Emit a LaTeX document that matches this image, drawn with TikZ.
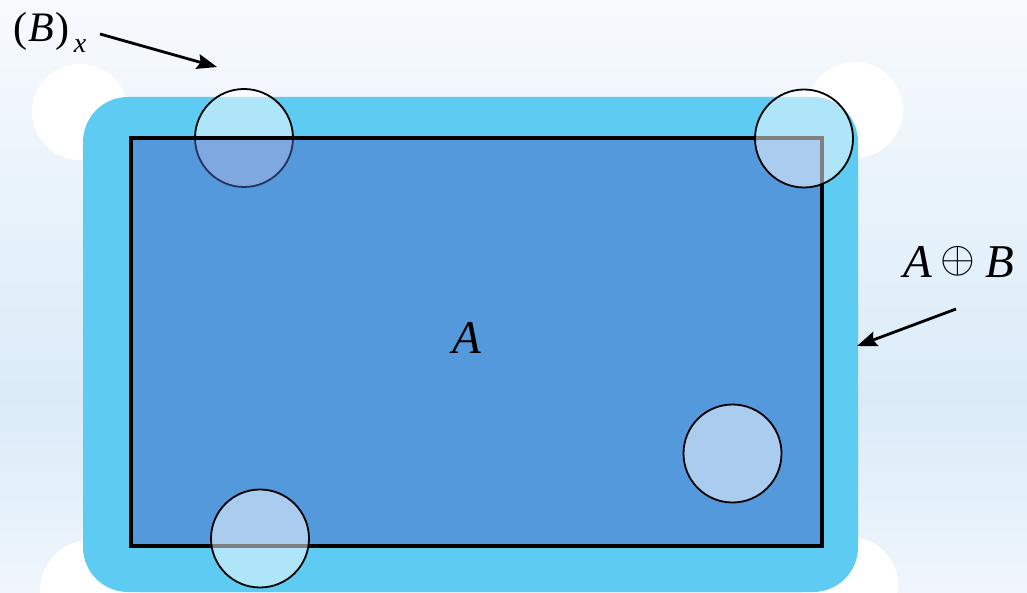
\documentclass[tikz,border=0pt]{standalone}
\usepackage{fontspec}
\setmainfont{Liberation Serif}
\usepackage{graphicx}
\usetikzlibrary{arrows.meta}
\definecolor{bgtop}{HTML}{F7FAFD}
\definecolor{bgband}{HTML}{DAEBF8}
\definecolor{bgbot}{HTML}{F0F6FC}
\definecolor{dil}{HTML}{5DCBF2}
\definecolor{setA}{HTML}{5599DD}
\definecolor{inA}{HTML}{7FA7E0}
\definecolor{navy}{HTML}{23335F}
\begin{document}
\begin{tikzpicture}[x=1pt,y=-1pt,
  probe/.style={circle,draw=black,line width=1.8pt,fill=white,fill opacity=0.5,draw opacity=1,minimum size=98pt,inner sep=0pt},
  pointer/.style={line width=2.8pt,-{Stealth[length=20pt,width=15pt,inset=3pt]}},
  lbl/.style={inner sep=0pt,anchor=base west}]
\useasboundingbox (0,0) rectangle (1027,593);
% background
\shade[top color=bgtop,bottom color=bgband] (0,0) rectangle (1027,400);
\shade[top color=bgband,bottom color=bgbot] (0,400) rectangle (1027,593);
% white blobs
\fill[white] (80,112) circle (48pt);
\fill[white] (855,110) circle (48pt);
\fill[white] (90,590) circle (50pt);
\fill[white] (850,585) circle (48pt);
% dilation
\fill[dil,rounded corners=45pt] (83,97) rectangle (858,592);
% top-left probe (under A)
\node[probe] (b1) at (244,138) {};
% set A
\fill[setA] (131,138) rectangle (822,546);
\begin{scope}
  \clip (131,138) rectangle (822,546);
  \fill[inA] (244,138) circle (49pt);
  \draw[navy,line width=1.8pt] (244,138) circle (49pt);
\end{scope}
\draw[black,line width=3.4pt] (131,138) rectangle (822,546);
% other probes
\node[probe] (b2) at (804,138.5) {};
\node[probe] (b3) at (732.5,453.5) {};
\node[probe] (b4) at (260,538.5) {};
% labels
\node[anchor=base] (la) at (467,353) {\fontsize{47}{47}\selectfont\textit{A}};
\node[lbl] (bx) at (13,42) {\fontsize{42}{42}\selectfont(\kern1pt\textit{B}\kern2pt)\kern4pt\raisebox{-11pt}{\fontsize{28}{28}\selectfont\textit{x}}};
\node[lbl] (aob) at (903,278) {\fontsize{47}{47}\selectfont\textit{A}\kern8pt\raisebox{5pt}{\scalebox{1.8}{$\oplus$}}\kern11pt\textit{B}};
% arrows
\coordinate (s1) at (100,34);
\coordinate (e1) at (217,67);
\coordinate (s2) at (956,309);
\coordinate (e2) at (857,346);
\draw[pointer] (s1) -- (e1);
\draw[pointer] (s2) -- (e2);
\end{tikzpicture}
\end{document}
